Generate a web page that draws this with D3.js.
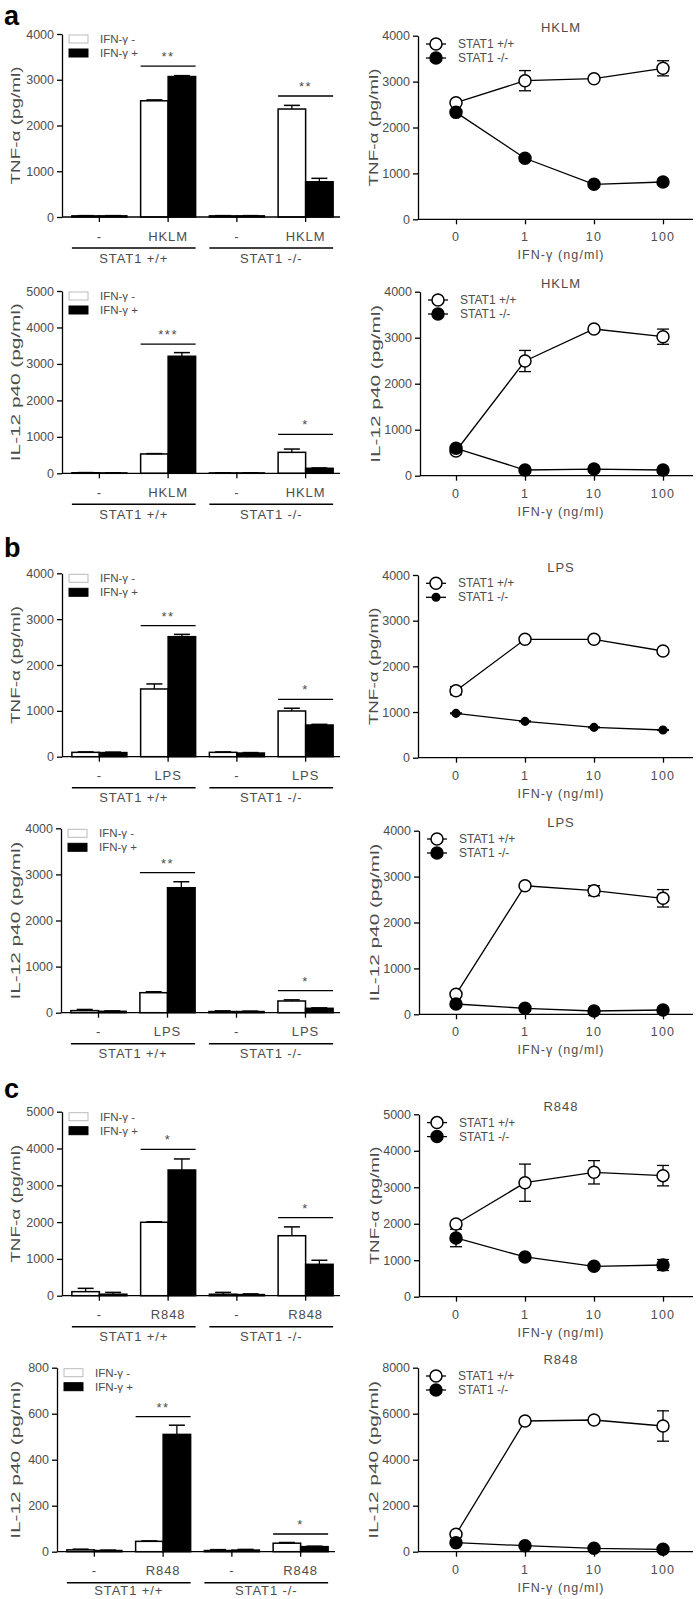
<!DOCTYPE html>
<html><head><meta charset="utf-8">
<script src="https://cdn.jsdelivr.net/npm/d3@7"></script>
<style>
body{margin:0;background:#fff;}
svg{display:block;font-family:"Liberation Sans",Arial,sans-serif;}
</style></head><body>
<svg id="fig" width="700" height="1599"></svg>
<script>
// ---------- shared labels ----------
const doseLabels = ["0", "1", "10", "100"];
const genotypeLabels = ["STAT1 +/+", "STAT1 -/-"];
const barLegend = ["IFN-γ -", "IFN-γ +"];
const lineLegend = ["STAT1 +/+", "STAT1 -/-"];
const stimuli = ["HKLM", "LPS", "R848"];
const panelLetters = ["a", "b", "c"];
const tnfLabel = "TNF-α (pg/ml)";
const ilLabel = "IL-12 p40 (pg/ml)";
const doseTitle = "IFN-γ (ng/ml)";

// ---------- bar data: groups = [-, stim] x [STAT1 +/+, STAT1 -/-] ----------
const aTnfNeg = [25, 2540, 25, 2360], aTnfNegErr = [5, 20, 5, 80];
const aTnfPos = [25, 3070, 25, 770], aTnfPosErr = [5, 20, 5, 75];
const aTnfSig = [3300, 2645], aTnfStars = ["**", "**"];

const aIlNeg = [15, 530, 10, 575], aIlNegErr = [5, 10, 5, 90];
const aIlPos = [10, 3210, 10, 137], aIlPosErr = [5, 100, 5, 10];
const aIlSig = [3545, 1069], aIlStars = ["***", "*"];

const bTnfNeg = [95, 1477, 95, 997], bTnfNegErr = [10, 110, 10, 60];
const bTnfPos = [90, 2618, 80, 691], bTnfPosErr = [10, 50, 10, 15];
const bTnfSig = [2858, 1252], bTnfStars = ["**", "*"];

const bIlNeg = [45, 434, 25, 254], bIlNegErr = [25, 20, 15, 25];
const bIlPos = [30, 2711, 25, 95], bIlPosErr = [10, 130, 10, 10];
const bIlSig = [3037, 477], bIlStars = ["**", "*"];

const cTnfNeg = [110, 1995, 40, 1630], cTnfNegErr = [90, 15, 50, 240];
const cTnfPos = [40, 3416, 30, 853], cTnfPosErr = [50, 300, 20, 110];
const cTnfSig = [3978, 2120], cTnfStars = ["*", "*"];

const cIlNeg = [8, 45, 5, 37], cIlNegErr = [3, 2, 4, 3];
const cIlPos = [5, 510, 7, 22], cIlPosErr = [2, 40, 3, 2];
const cIlSig = [587, 77], cIlStars = ["**", "*"];

// ---------- dose-response data ----------
const aTnfWt = [2540, 3020, 3063, 3290], aTnfWtErr = [40, 220, 30, 165];
const aTnfKo = [2330, 1330, 762, 813], aTnfKoErr = [30, 40, 30, 30];
const aIlWt = [537, 2493, 3189, 3022], aIlWtErr = [40, 230, 30, 165];
const aIlKo = [595, 124, 145, 124], aIlKoErr = [20, 10, 10, 10];
const bTnfWt = [1467, 2592, 2592, 2336], bTnfWtErr = [90, 20, 20, 20];
const bTnfKo = [971, 796, 664, 606], bTnfKoErr = [10, 10, 10, 10];
const bIlWt = [436, 2801, 2693, 2527], bIlWtErr = [20, 30, 110, 190];
const bIlKo = [224, 130, 72, 94], bIlKoErr = [10, 10, 10, 10];
const cTnfWt = [1993, 3125, 3410, 3318], cTnfWtErr = [40, 510, 320, 280];
const cTnfKo = [1610, 1089, 833, 869], cTnfKoErr = [240, 30, 30, 150];
const cIlWt = [756, 5683, 5726, 5465], cIlWtErr = [50, 50, 50, 660];
const cIlKo = [391, 261, 148, 104], cIlKoErr = [20, 20, 20, 20];

// ---------- layout (positions only) ----------
const TXT = "#4d4d4d";
const svg = d3.select("#fig");

const barPanels = [
  {ax: 62, axEnd: 340, yTop: 34, y0: 217, max: 4000, step: 1000, stim: stimuli[0], lab: tnfLabel, labLen: 118, genoOff: 41,
   neg: aTnfNeg, negErr: aTnfNegErr, pos: aTnfPos, posErr: aTnfPosErr, sig: aTnfSig, stars: aTnfStars},
  {ax: 62, axEnd: 340, yTop: 291, y0: 473.3, max: 5000, step: 1000, stim: stimuli[0], lab: ilLabel, labLen: 158, genoOff: 41,
   neg: aIlNeg, negErr: aIlNegErr, pos: aIlPos, posErr: aIlPosErr, sig: aIlSig, stars: aIlStars},
  {ax: 62, axEnd: 340, yTop: 573.3, y0: 756.7, max: 4000, step: 1000, stim: stimuli[1], lab: tnfLabel, labLen: 118, genoOff: 41,
   neg: bTnfNeg, negErr: bTnfNegErr, pos: bTnfPos, posErr: bTnfPosErr, sig: bTnfSig, stars: bTnfStars},
  {ax: 61, axEnd: 340, yTop: 828.3, y0: 1012.7, max: 4000, step: 1000, stim: stimuli[1], lab: ilLabel, labLen: 158, genoOff: 41,
   neg: bIlNeg, negErr: bIlNegErr, pos: bIlPos, posErr: bIlPosErr, sig: bIlSig, stars: bIlStars},
  {ax: 62, axEnd: 340, yTop: 1111.7, y0: 1295.7, max: 5000, step: 1000, stim: stimuli[2], lab: tnfLabel, labLen: 118, genoOff: 41,
   neg: cTnfNeg, negErr: cTnfNegErr, pos: cTnfPos, posErr: cTnfPosErr, sig: cTnfSig, stars: cTnfStars},
  {ax: 57, axEnd: 335, yTop: 1367.7, y0: 1551.7, max: 800, step: 200, stim: stimuli[2], lab: ilLabel, labLen: 158, genoOff: 39,
   neg: cIlNeg, negErr: cIlNegErr, pos: cIlPos, posErr: cIlPosErr, sig: cIlSig, stars: cIlStars}
];

const linePanels = [
  {ax: 418, yTop: 35.7, y0: 219.3, max: 4000, step: 1000, stim: stimuli[0], lab: tnfLabel, labLen: 118, smallKo: false,
   wt: aTnfWt, wtErr: aTnfWtErr, ko: aTnfKo, koErr: aTnfKoErr},
  {ax: 420, yTop: 291.7, y0: 475.7, max: 4000, step: 1000, stim: stimuli[0], lab: ilLabel, labLen: 158, smallKo: false,
   wt: aIlWt, wtErr: aIlWtErr, ko: aIlKo, koErr: aIlKoErr},
  {ax: 418, yTop: 575, y0: 757.7, max: 4000, step: 1000, stim: stimuli[1], lab: tnfLabel, labLen: 118, smallKo: true,
   wt: bTnfWt, wtErr: bTnfWtErr, ko: bTnfKo, koErr: bTnfKoErr},
  {ax: 419, yTop: 830.7, y0: 1014.3, max: 4000, step: 1000, stim: stimuli[1], lab: ilLabel, labLen: 158, smallKo: false,
   wt: bIlWt, wtErr: bIlWtErr, ko: bIlKo, koErr: bIlKoErr},
  {ax: 419, yTop: 1114.3, y0: 1296.7, max: 5000, step: 1000, stim: stimuli[2], lab: tnfLabel, labLen: 118, smallKo: false,
   wt: cTnfWt, wtErr: cTnfWtErr, ko: cTnfKo, koErr: cTnfKoErr},
  {ax: 418, yTop: 1367.7, y0: 1551.7, max: 8000, step: 2000, stim: stimuli[2], lab: ilLabel, labLen: 158, smallKo: false,
   wt: cIlWt, wtErr: cIlWtErr, ko: cIlKo, koErr: cIlKoErr}
];

const letterPos = [24.5, 557, 1098];

function styleAxis(g) {
  g.attr("font-family", null).attr("font-size", null);
  g.selectAll(".domain").attr("stroke", "#000").attr("stroke-width", 1.3);
  g.selectAll(".tick line").attr("stroke", "#000").attr("stroke-width", 1.3);
  g.selectAll(".tick text").attr("fill", TXT).style("font-size", "12.5px");
}

function yLabel(x, yc, text, len) {
  svg.append("text")
    .attr("transform", `translate(${x},${yc}) rotate(-90)`)
    .attr("text-anchor", "middle").attr("dominant-baseline", "central")
    .attr("fill", TXT).style("font-size", "12px")
    .attr("textLength", len).attr("lengthAdjust", "spacingAndGlyphs")
    .text(text);
}

function drawBar(p) {
  const g = svg.append("g");
  const y = d3.scaleLinear().domain([0, p.max]).range([p.y0, p.yTop]);
  const x = d3.scaleBand().domain(d3.range(4)).range([p.ax + 3, p.axEnd]).paddingInner(0.2).paddingOuter(0.1);
  const sub = d3.scaleBand().domain([0, 1]).range([0, x.bandwidth()]);

  const series = [{v: p.neg, e: p.negErr, k: 0}, {v: p.pos, e: p.posErr, k: 1}];
  series.forEach(s => {
    const bg = g.append("g");
    s.v.forEach((v, i) => {
      const bx = x(i) + sub(s.k), bw = sub.bandwidth();
      bg.append("rect").attr("x", bx).attr("y", y(v)).attr("width", bw).attr("height", p.y0 - y(v))
        .attr("fill", s.k ? "#000" : "#fff").attr("stroke", "#000").attr("stroke-width", 1.5);
      const cx = bx + bw / 2, ye = y(v + s.e[i]);
      bg.append("line").attr("x1", cx).attr("x2", cx).attr("y1", y(v)).attr("y2", ye).attr("stroke", "#000").attr("stroke-width", 1.3);
      bg.append("line").attr("x1", cx - 8).attr("x2", cx + 8).attr("y1", ye).attr("y2", ye).attr("stroke", "#000").attr("stroke-width", 1.5);
    });
  });

  g.append("g").attr("transform", `translate(${p.ax},0)`)
    .call(d3.axisLeft(y).tickValues(d3.range(0, p.max + 1, p.step)).tickFormat(d3.format("d")).tickSize(5).tickSizeOuter(0).tickPadding(3))
    .call(styleAxis);
  g.append("line").attr("x1", p.ax).attr("x2", p.axEnd).attr("y1", p.y0).attr("y2", p.y0).attr("stroke", "#000").attr("stroke-width", 1.3);
  g.append("g").attr("transform", `translate(0,${p.y0})`)
    .call(d3.axisBottom(x).tickSize(5).tickSizeOuter(0).tickFormat(""))
    .call(styleAxis).call(a => a.select(".domain").remove());

  const cats = ["-", p.stim, "-", p.stim];
  cats.forEach((c, i) => {
    g.append("text").attr("x", x(i) + x.bandwidth() / 2).attr("y", p.y0 + 19)
      .attr("text-anchor", "middle").attr("dominant-baseline", "central")
      .attr("fill", TXT).style("font-size", "13px").style("letter-spacing", "0.9px").text(c);
  });
  [0, 1].forEach(j => {
    const x1 = x(2 * j), x2 = x(2 * j + 1) + x.bandwidth();
    g.append("line").attr("x1", x1).attr("x2", x2).attr("y1", p.y0 + 31).attr("y2", p.y0 + 31).attr("stroke", "#000").attr("stroke-width", 1.5);
    g.append("text").attr("x", (x1 + x2) / 2).attr("y", p.y0 + p.genoOff)
      .attr("text-anchor", "middle").attr("dominant-baseline", "central")
      .attr("fill", TXT).style("font-size", "13px").style("letter-spacing", "0.9px").text(genotypeLabels[j]);
  });
  [1, 3].forEach((gi, j) => {
    const yy = y(p.sig[j]);
    g.append("line").attr("x1", x(gi)).attr("x2", x(gi) + x.bandwidth()).attr("y1", yy).attr("y2", yy).attr("stroke", "#000").attr("stroke-width", 1.3);
    g.append("text").attr("x", x(gi) + x.bandwidth() / 2).attr("y", yy - 5)
      .attr("text-anchor", "middle").attr("fill", TXT).style("font-size", "13px").style("letter-spacing", "1.5px").text(p.stars[j]);
  });
  [0, 1].forEach(k => {
    g.append("rect").attr("x", p.ax + 7).attr("y", p.yTop + 1 + 14 * k).attr("width", 19).attr("height", 8)
      .attr("fill", k ? "#000" : "#fff").attr("stroke", k ? "#000" : "#bbb").attr("stroke-width", 1);
    g.append("text").attr("x", p.ax + 38).attr("y", p.yTop + 5 + 14 * k).attr("dominant-baseline", "central")
      .attr("fill", TXT).style("font-size", "11.5px").text(barLegend[k]);
  });
  yLabel(16, (p.y0 + p.yTop) / 2, p.lab, p.labLen);
}

function drawLine(p) {
  const g = svg.append("g");
  const y = d3.scaleLinear().domain([0, p.max]).range([p.y0, p.yTop]);
  const x = d3.scalePoint().domain(doseLabels).range([456, 663]);
  const axEnd = 693;

  g.append("g").attr("transform", `translate(${p.ax},0)`)
    .call(d3.axisLeft(y).tickValues(d3.range(0, p.max + 1, p.step)).tickFormat(d3.format("d")).tickSize(5).tickSizeOuter(0).tickPadding(3))
    .call(styleAxis);
  g.append("line").attr("x1", p.ax).attr("x2", axEnd).attr("y1", p.y0).attr("y2", p.y0).attr("stroke", "#000").attr("stroke-width", 1.3);
  g.append("g").attr("transform", `translate(0,${p.y0})`)
    .call(d3.axisBottom(x).tickSize(5).tickSizeOuter(0).tickFormat(""))
    .call(styleAxis).call(a => a.select(".domain").remove());
  doseLabels.forEach(d => {
    g.append("text").attr("x", x(d)).attr("y", p.y0 + 18).attr("text-anchor", "middle").attr("dominant-baseline", "central")
      .attr("fill", TXT).style("font-size", "12.5px").style("letter-spacing", "1.2px").text(d);
  });
  g.append("text").attr("x", 561).attr("y", p.y0 + 36).attr("text-anchor", "middle").attr("dominant-baseline", "central")
    .attr("fill", TXT).style("font-size", "12.5px").style("letter-spacing", "1.1px").text(doseTitle);
  g.append("text").attr("x", 561).attr("y", p.yTop - 8).attr("text-anchor", "middle").attr("dominant-baseline", "central")
    .attr("fill", TXT).style("font-size", "13px").style("letter-spacing", "1px").text(p.stim);

  const line = d3.line().x((v, i) => x(doseLabels[i])).y(v => y(v));
  const series = [{v: p.wt, e: p.wtErr, open: true, r: 6}, {v: p.ko, e: p.koErr, open: false, r: p.smallKo ? 3.8 : 6}];
  series.forEach(s => {
    g.append("path").attr("d", line(s.v)).attr("fill", "none").attr("stroke", "#000").attr("stroke-width", 1.3);
    s.v.forEach((v, i) => {
      const cx = x(doseLabels[i]);
      const yt = y(v + s.e[i]), yb = y(v - s.e[i]);
      g.append("line").attr("x1", cx).attr("x2", cx).attr("y1", yt).attr("y2", yb).attr("stroke", "#000").attr("stroke-width", 1.3);
      [yt, yb].forEach(yy => g.append("line").attr("x1", cx - 6).attr("x2", cx + 6).attr("y1", yy).attr("y2", yy).attr("stroke", "#000").attr("stroke-width", 1.3));
    });
  });
  series.forEach(s => {
    s.v.forEach((v, i) => {
      g.append("circle").attr("cx", x(doseLabels[i])).attr("cy", y(v)).attr("r", s.r)
        .attr("fill", s.open ? "#fff" : "#000").attr("stroke", "#000").attr("stroke-width", 1.5);
    });
  });
  series.forEach((s, k) => {
    const ly = p.yTop + 8.3 + 14 * k;
    g.append("line").attr("x1", p.ax + 8).attr("x2", p.ax + 28).attr("y1", ly).attr("y2", ly).attr("stroke", "#000").attr("stroke-width", 1.3);
    g.append("circle").attr("cx", p.ax + 18).attr("cy", ly).attr("r", s.r).attr("fill", s.open ? "#fff" : "#000").attr("stroke", "#000").attr("stroke-width", 1.5);
    g.append("text").attr("x", p.ax + 40).attr("y", ly).attr("dominant-baseline", "central")
      .attr("fill", TXT).style("font-size", "12px").text(lineLegend[k]);
  });
  yLabel(p.ax - 44, (p.y0 + p.yTop) / 2, p.lab, p.labLen);
}

barPanels.forEach(drawBar);
linePanels.forEach(drawLine);
panelLetters.forEach((l, i) => {
  svg.append("text").attr("x", 4).attr("y", letterPos[i]).attr("fill", "#000")
    .style("font-size", "27px").style("font-weight", "bold").text(l);
});
</script>
</body></html>
